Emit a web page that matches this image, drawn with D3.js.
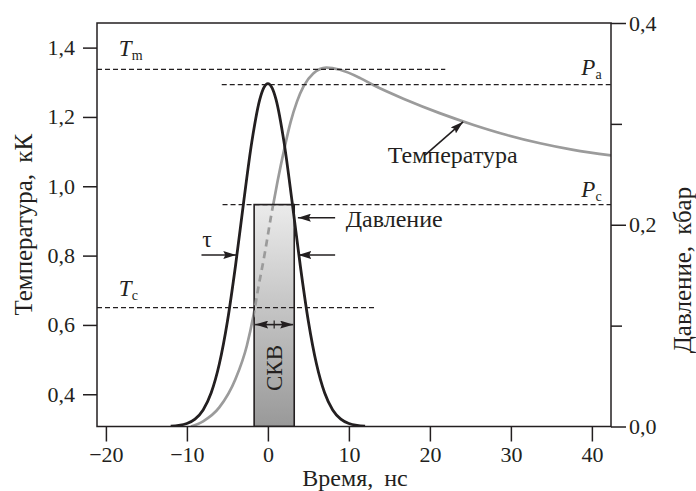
<!DOCTYPE html>
<html><head><meta charset="utf-8">
<script src="https://cdn.jsdelivr.net/npm/d3@7"></script>
<style>
body{margin:0;background:#fff}
svg{display:block}
text{font-family:"Liberation Serif","Times New Roman",serif;fill:#231f20}
</style>
</head><body>
<svg id="chart" width="696" height="491"></svg>
<script>
// ---- data ----
const timeTicks = [-20, -10, 0, 10, 20, 30, 40];
const tempTicks = [0.4, 0.6, 0.8, 1.0, 1.2, 1.4];
const pressMajorTicks = [0.0, 0.2, 0.4];
const pressMinorTicks = [0.1, 0.3];

// pressure pulse (kbar) vs time (ns)
const pulseTime = [-12, -11, -10, -9, -8, -7, -6, -5, -4, -3, -2, -1, -0.5, 0, 0.5, 1, 2, 3, 4, 5, 6, 7, 8, 9, 10, 11, 12];
const pulsePressure = [0.0004, 0.0011, 0.0030, 0.0073, 0.0164, 0.0334, 0.0619, 0.1041, 0.1594, 0.2221, 0.2814, 0.3243, 0.336, 0.340, 0.336, 0.3243, 0.2814, 0.2221, 0.1594, 0.1041, 0.0619, 0.0334, 0.0164, 0.0073, 0.0030, 0.0011, 0.0004];

// temperature (kK) vs time (ns)
const tempTime = [-9.5, -8.0, -6.0, -4.0, -2.6, -1.8, -1.2, -0.4, 0.4, 1.2, 2.0, 2.8, 3.6, 4.4, 5.6, 7.2, 8.9, 11.4, 13.0, 17.1, 21.2, 25.4, 29.5, 33.6, 37.7, 42.36];
const tempValue = [0.307, 0.322, 0.362, 0.444, 0.540, 0.625, 0.705, 0.805, 0.915, 1.015, 1.105, 1.185, 1.245, 1.288, 1.325, 1.342, 1.336, 1.312, 1.292, 1.249, 1.211, 1.177, 1.148, 1.124, 1.105, 1.089];

// reference levels
const levelTm = 1.337, levelTc = 0.650;     // kK
const levelPa = 0.339, levelPc = 0.220;     // kbar
const TmRange = [-21.1, 21.9], TcRange = [-21.1, 13.2];
const PaRange = [-5.7, 42.36], PcRange = [-5.6, 42.36];

// СКВ bar (time window, top pressure)
const skvStart = -1.7, skvEnd = 3.25, skvTop = 0.22;

// ---- layout ----
const L = 97, R = 611, T = 23, B = 426.5;
const svg = d3.select("#chart");
const ink = "#231f20";

const x = d3.scaleLinear().domain([-21.1, 42.36]).range([L, R]);
const yT = d3.scaleLinear().domain([0.307, 1.471]).range([B, T]);
const yP = d3.scaleLinear().domain([0, 0.4]).range([B, T]);
const comma = d => d3.format(".1f")(d).replace(".", ",");

// defs
const defs = svg.append("defs");
const grad = defs.append("linearGradient").attr("id", "skvGrad").attr("x1", 0).attr("y1", 0).attr("x2", 0).attr("y2", 1);
grad.append("stop").attr("offset", "0%").attr("stop-color", "#ebebeb");
grad.append("stop").attr("offset", "100%").attr("stop-color", "#999999");
defs.append("clipPath").attr("id", "skvClip").append("rect")
  .attr("x", x(skvStart)).attr("y", yP(skvTop))
  .attr("width", x(skvEnd) - x(skvStart)).attr("height", yP(0) - yP(skvTop));
defs.append("clipPath").attr("id", "plotClip").append("rect")
  .attr("x", L).attr("y", T).attr("width", R - L).attr("height", B - T);
defs.append("marker").attr("id", "ah").attr("viewBox", "0 0 13 8").attr("refX", 13).attr("refY", 4)
  .attr("markerWidth", 13).attr("markerHeight", 8).attr("markerUnits", "userSpaceOnUse").attr("orient", "auto-start-reverse")
  .append("path").attr("d", "M0,0 L13,4 L0,8 L2,4 Z").attr("fill", ink);

const tempData = tempTime.map((t, i) => [t, tempValue[i]]);
const pulseData = pulseTime.map((t, i) => [t, pulsePressure[i]]);
const tempLine = d3.line().x(d => x(d[0])).y(d => yT(d[1])).curve(d3.curveMonotoneX);
const pulseLine = d3.line().x(d => x(d[0])).y(d => yP(d[1])).curve(d3.curveMonotoneX);

const plot = svg.append("g").attr("clip-path", "url(#plotClip)");

// temperature curve (solid)
plot.append("path").attr("d", tempLine(tempData)).attr("fill", "none")
  .attr("stroke", "#9b9b9b").attr("stroke-width", 2.7);

// СКВ bar
plot.append("rect")
  .attr("x", x(skvStart)).attr("y", yP(skvTop))
  .attr("width", x(skvEnd) - x(skvStart)).attr("height", yP(0) - yP(skvTop))
  .attr("fill", "url(#skvGrad)").attr("stroke", ink).attr("stroke-width", 1.6);

// temperature curve inside bar (dashed)
plot.append("path").attr("d", tempLine(tempData)).attr("fill", "none")
  .attr("clip-path", "url(#skvClip)")
  .attr("stroke", "#9b9b9b").attr("stroke-width", 2.7).attr("stroke-dasharray", "7,5");

// reference dashed lines
const levels = [
  {y: yT(levelTm), r: TmRange},
  {y: yT(levelTc), r: TcRange},
  {y: yP(levelPa), r: PaRange},
  {y: yP(levelPc), r: PcRange}
];
plot.selectAll("line.lvl").data(levels).join("line").attr("class", "lvl")
  .attr("x1", d => x(d.r[0])).attr("x2", d => x(d.r[1]))
  .attr("y1", d => d.y).attr("y2", d => d.y)
  .attr("stroke", ink).attr("stroke-width", 1.2).attr("stroke-dasharray", "5,3");

// pressure pulse
plot.append("path").attr("d", pulseLine(pulseData)).attr("fill", "none")
  .attr("stroke", ink).attr("stroke-width", 2.8);

// ---- axes ----
const tickFs = "22px", fs = "24px", titleFs = "25px";
const gL = svg.append("g").attr("transform", `translate(${L},0)`)
  .call(d3.axisLeft(yT).tickValues(tempTicks).tickSize(14).tickPadding(8).tickFormat(comma));
const gB = svg.append("g").attr("transform", `translate(0,${B})`)
  .call(d3.axisBottom(x).tickValues(timeTicks).tickSize(15).tickPadding(5).tickFormat(d3.format("d")));
const gR = svg.append("g").attr("transform", `translate(${R},0)`)
  .call(d3.axisRight(yP).tickValues(pressMajorTicks).tickSize(15).tickPadding(3).tickFormat(comma));
const gR2 = svg.append("g").attr("transform", `translate(${R},0)`)
  .call(d3.axisRight(yP).tickValues(pressMinorTicks).tickSize(11).tickFormat(""));
[gL, gB, gR, gR2].forEach(g => {
  g.select(".domain").remove();
  g.selectAll("line").attr("stroke", ink).attr("stroke-width", 1.5);
  g.selectAll("text").attr("font-size", tickFs).attr("font-family", "Liberation Serif").attr("fill", ink);
});

// frame
svg.append("rect").attr("x", L).attr("y", T).attr("width", R - L).attr("height", B - T)
  .attr("fill", "none").attr("stroke", ink).attr("stroke-width", 1.5);

// axis titles
svg.append("text").attr("transform", `translate(32,${(T + B) / 2}) rotate(-90)`)
  .attr("text-anchor", "middle").attr("font-size", titleFs).attr("word-spacing", 5).text("Температура, кК");
svg.append("text").attr("transform", `translate(691,270) rotate(-90)`)
  .attr("text-anchor", "middle").attr("font-size", titleFs).attr("word-spacing", 5).text("Давление, кбар");
svg.append("text").attr("x", 355).attr("y", 486).attr("text-anchor", "middle")
  .attr("font-size", fs).attr("word-spacing", 5).text("Время, нс");

// level labels
function sym(px, py, main, sub) {
  const t = svg.append("text").attr("x", px).attr("y", py).attr("font-size", "23px");
  t.append("tspan").attr("font-style", "italic").text(main);
  t.append("tspan").attr("font-size", "14px").attr("dy", 4).text(sub);
}
sym(x(-18.4), yT(levelTm) - 13, "T", "m");
sym(x(-18.4), yT(levelTc) - 12, "T", "c");
sym(x(38.7), yP(levelPa) - 10, "P", "a");
sym(x(38.7), yP(levelPc) - 8, "P", "c");

// annotations
function arrow(t1, v1, t2, v2, sc) {
  svg.append("line").attr("x1", x(t1)).attr("y1", sc(v1)).attr("x2", x(t2)).attr("y2", sc(v2))
    .attr("stroke", ink).attr("stroke-width", 1.6).attr("marker-end", "url(#ah)");
}
const half = 0.17;
arrow(-8.2, half, -3.9, half, yP);
arrow(8.3, half, 3.75, half, yP);
svg.append("text").attr("x", x(-8.1)).attr("y", yP(half) - 8).attr("font-size", fs).text("τ");

arrow(8.3, 0.207, 3.7, 0.207, yP);
svg.append("text").attr("x", x(9.6)).attr("y", yP(0.207) + 9).attr("font-size", fs).text("Давление");

arrow(19.4, 1.090, 24.1, 1.186, yT);
svg.append("text").attr("x", x(14.8)).attr("y", yT(1.090) + 8).attr("font-size", fs).text("Температура");

// СКВ double arrow and label
const skvMid = (skvStart + skvEnd) / 2;
const skvArrowY = yP(0.101);
svg.append("line").attr("x1", x(skvMid)).attr("x2", x(skvStart) + 1).attr("y1", skvArrowY).attr("y2", skvArrowY)
  .attr("stroke", ink).attr("stroke-width", 1.6).attr("marker-end", "url(#ah)");
svg.append("line").attr("x1", x(skvMid)).attr("x2", x(skvEnd) - 1).attr("y1", skvArrowY).attr("y2", skvArrowY)
  .attr("stroke", ink).attr("stroke-width", 1.6).attr("marker-end", "url(#ah)");
svg.append("line").attr("x1", x(skvMid)).attr("x2", x(skvMid)).attr("y1", skvArrowY - 4).attr("y2", skvArrowY + 4)
  .attr("stroke", ink).attr("stroke-width", 1.2);
svg.append("text").attr("transform", `translate(${x(skvMid) + 8},${yP(0.058)}) rotate(-90)`)
  .attr("text-anchor", "middle").attr("font-size", "23px").text("СКВ");
</script>
</body></html>
